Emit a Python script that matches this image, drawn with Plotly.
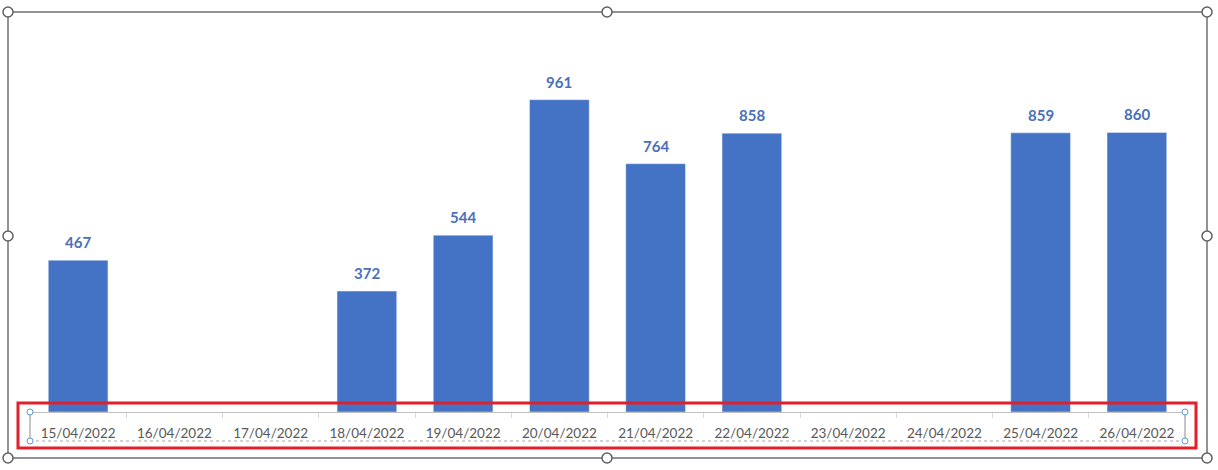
import plotly.graph_objects as go

# data
dates = ["15/04/2022", "16/04/2022", "17/04/2022", "18/04/2022", "19/04/2022",
         "20/04/2022", "21/04/2022", "22/04/2022", "23/04/2022", "24/04/2022",
         "25/04/2022", "26/04/2022"]
values = [467, None, None, 372, 544, 961, 764, 858, None, None, 859, 860]

W, H = 1218, 470
BAR = "#4472C4"


def px(x):
    return x / W


def py(y):
    return 1 - y / H


fig = go.Figure()
fig.add_trace(go.Bar(x=dates, y=values, marker_color=BAR, width=0.62,
                     hoverinfo="x+y"))

# data labels above the bars
for d, v in zip(dates, values):
    if v is None:
        continue
    fig.add_annotation(x=d, y=v, text="<b>%d</b>" % v, showarrow=False,
                       yanchor="middle", yshift=18,
                       font=dict(family="Lato", size=15, color="#4A70B8"))

shapes = []
# outer chart frame with handles
shapes.append(dict(type="rect", xref="paper", yref="paper",
                   x0=px(8), x1=px(1207), y0=py(458), y1=py(12),
                   line=dict(color="#707070", width=1.5)))
for cx, cy in [(8, 12), (607, 12), (1207, 12), (8, 236), (1207, 236),
               (8, 458), (607, 458), (1207, 458)]:
    r = 5
    shapes.append(dict(type="circle", xref="paper", yref="paper",
                       x0=px(cx - r), x1=px(cx + r), y0=py(cy + r), y1=py(cy - r),
                       line=dict(color="#606060", width=1.5), fillcolor="white"))

# selection box around the axis labels
shapes.append(dict(type="line", xref="paper", yref="paper",
                   x0=px(30), x1=px(1185), y0=py(441), y1=py(441),
                   line=dict(color="#A6A6A6", width=1, dash="dot")))
for sx in (30, 1185):
    shapes.append(dict(type="line", xref="paper", yref="paper",
                       x0=px(sx), x1=px(sx), y0=py(412), y1=py(441),
                       line=dict(color="#8C8C8C", width=1)))
    for sy in (412, 441):
        r = 3
        shapes.append(dict(type="circle", xref="paper", yref="paper",
                           x0=px(sx - r), x1=px(sx + r), y0=py(sy + r), y1=py(sy - r),
                           line=dict(color="#5B9BD5", width=1), fillcolor="white"))

# red highlight rectangle
shapes.append(dict(type="rect", xref="paper", yref="paper",
                   x0=px(18), x1=px(1196), y0=py(448), y1=py(403),
                   line=dict(color="#E0202A", width=3)))

fig.update_layout(
    width=W, height=H,
    margin=dict(l=0, r=0, t=0, b=0),
    paper_bgcolor="white", plot_bgcolor="white",
    showlegend=False,
    shapes=shapes,
    bargap=0.38,
    xaxis=dict(type="category", domain=[px(30), px(1185)], range=[-0.5, 11.5],
               showline=True, linecolor="#BFBFBF", linewidth=1,
               ticks="outside", tickson="boundaries", ticklen=5,
               tickcolor="#D9D9D9", ticklabelstandoff=9,
               tickfont=dict(family="Lato", size=13.5, color="#595959"),
               showgrid=False, fixedrange=True),
    yaxis=dict(domain=[py(412), py(22)], range=[0, 1200], visible=False,
               showgrid=False, zeroline=False, fixedrange=True),
)

# page body margin would shift the figure inside the window
fig.write_html("out.html", config={"displayModeBar": False},
               post_script="document.body.style.margin='0';"
                           "document.body.style.overflow='hidden';")
